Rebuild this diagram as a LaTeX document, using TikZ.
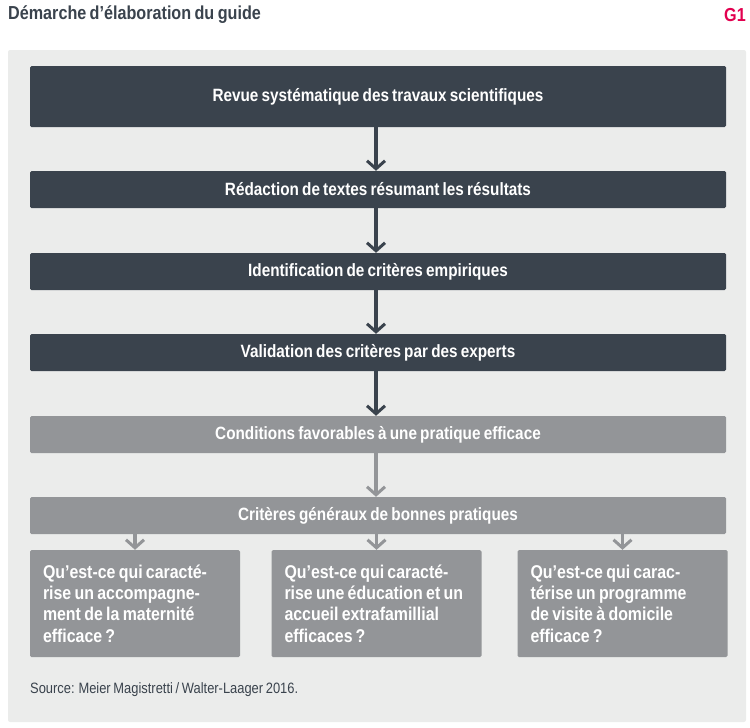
\documentclass[tikz,border=0pt]{standalone}
\usepackage{fontspec}
\setmainfont{Liberation Sans}[FakeStretch=0.86, WordSpace=0.75]
\usetikzlibrary{arrows.meta}

\definecolor{darkbox}{HTML}{3A434D}
\definecolor{greybox}{HTML}{939598}
\definecolor{panel}{HTML}{EBECEB}
\definecolor{titlered}{HTML}{E2004F}

\begin{document}
\begin{tikzpicture}[x=1pt, y=-1pt, line join=bevel]
	\tikzset{stepbox/.style = {fill=darkbox, text=white, rounded corners=1.5pt, minimum width=696pt, inner sep=0pt, font=\fontsize{17.8}{20}\selectfont\bfseries}};
	\tikzset{greystep/.style = {stepbox, fill=greybox}};
	\tikzset{question/.style = {fill=greybox, text=white, rounded corners=1.5pt, minimum width=210pt, minimum height=107pt, text width=184pt, align=flush left, inner sep=0pt, font=\fontsize{18.5}{21.3}\selectfont\bfseries}};
	\tikzset{flow/.style = {line width=3.5pt, -{Straight Barb[length=8pt, width=18pt, line width=3pt]}}};

	\useasboundingbox (0,0) rectangle (750,728);
	\fill[panel, rounded corners=2pt] (8,50) rectangle (746,722);

	% title and source
	\node[anchor=west, inner sep=0pt, text=darkbox, font=\fontsize{18.8}{21}\selectfont\bfseries] (title) at (8,15) {Démarche d’élaboration du guide};
	\node[anchor=east, inner sep=0pt, text=titlered, font=\fontsize{18.8}{21}\selectfont\bfseries] (gnum) at (746,15) {G1};
	\node[anchor=west, inner sep=0pt, text=darkbox, font=\fontsize{15}{17}\selectfont] (source) at (30,690) {Source: Meier Magistretti / Walter-Laager 2016.};

	% main steps
	\node[stepbox, minimum height=61pt] (revue) at (378,96.5) {Revue systématique des travaux scientifiques};
	\node[stepbox, minimum height=37pt] (redaction) at (378,189.5) {Rédaction de textes résumant les résultats};
	\node[stepbox, minimum height=37pt] (identif) at (378,271.5) {Identification de critères empiriques};
	\node[stepbox, minimum height=37pt] (validation) at (378,352.5) {Validation des critères par des experts};
	\node[greystep, minimum height=37pt] (conditions) at (378,434.5) {Conditions favorables à une pratique efficace};
	\node[greystep, minimum height=37pt] (criteres) at (378,515.5) {Critères généraux de bonnes pratiques};

	% questions
	\node[question] (q1) at (135,603.5) {Qu’est-ce qui caracté-\\rise un accompagne-\\ment de la maternité\\efficace\,?};
	\node[question] (q2) at (376.5,603.5) {Qu’est-ce qui caracté-\\rise une éducation et un\\accueil extrafamillial\\efficaces\,?};
	\node[question] (q3) at (622.5,603.5) {Qu’est-ce qui carac-\\térise un programme\\de visite à domicile\\efficace\,?};

	% arrows
	\draw[flow, darkbox] (revue.south -| 376,0) -- (redaction.north -| 376,0);
	\draw[flow, darkbox] (redaction.south -| 376,0) -- (identif.north -| 376,0);
	\draw[flow, darkbox] (identif.south -| 376,0) -- (validation.north -| 376,0);
	\draw[flow, darkbox] (validation.south -| 376,0) -- (conditions.north -| 376,0);
	\draw[flow, greybox] (conditions.south -| 376,0) -- (criteres.north -| 376,0);
	\draw[flow, greybox] (criteres.south -| q1.north) -- (q1.north);
	\draw[flow, greybox] (criteres.south -| q2.north) -- (q2.north);
	\draw[flow, greybox] (criteres.south -| q3.north) -- (q3.north);
\end{tikzpicture}
\end{document}
